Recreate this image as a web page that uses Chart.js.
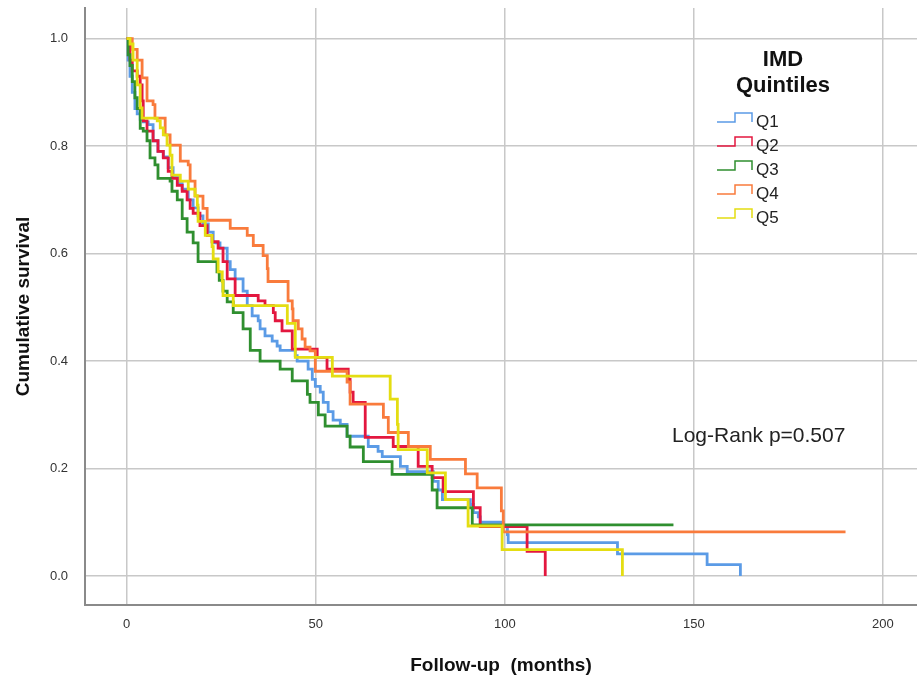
<!DOCTYPE html>
<html>
<head>
<meta charset="utf-8">
<style>
  html, body { margin: 0; padding: 0; background: #fff; }
  #wrap { width: 917px; height: 688px; }
</style>
</head>
<body>
<div id="wrap"><canvas id="kmChart" width="917" height="688"></canvas></div>

<script src="https://cdn.jsdelivr.net/npm/chart.js"></script>
<script>
  // Kaplan-Meier curves by IMD quintile (months, cumulative survival)
  const groups = ['Q1', 'Q2', 'Q3', 'Q4', 'Q5'];
  const colors = ['#5b9be6', '#e3173f', '#2f8f2f', '#f97b3c', '#e4dd12'];

  const q1Time = [0, 0.4, 0.9, 1.5, 2.2, 2.8, 3.6, 4.4, 5.7, 7.0, 8.3, 9.7, 11.0, 12.3, 13.6, 14.7, 16.3, 17.6, 18.9, 20.2, 21.6, 22.9, 24.7, 26.6, 27.4, 28.7, 30.8, 31.9, 33.2, 34.8, 35.3, 36.6, 38.5, 39.8, 40.6, 44.6, 45.1, 48.0, 49.1, 49.9, 51.2, 52.0, 53.3, 54.6, 56.5, 58.3, 63.9, 66.5, 67.6, 72.4, 74.2, 81.1, 82.4, 83.5, 90.9, 91.7, 93.0, 93.5, 99.6, 100.7, 100.9, 129.8, 153.5, 162.3];
  const q1Surv = [1.0, 0.96, 0.93, 0.90, 0.87, 0.86, 0.85, 0.845, 0.84, 0.81, 0.79, 0.78, 0.76, 0.745, 0.73, 0.72, 0.70, 0.685, 0.67, 0.655, 0.64, 0.62, 0.61, 0.585, 0.57, 0.553, 0.53, 0.503, 0.484, 0.475, 0.46, 0.447, 0.437, 0.428, 0.42, 0.41, 0.40, 0.385, 0.366, 0.353, 0.342, 0.323, 0.306, 0.29, 0.282, 0.26, 0.241, 0.232, 0.222, 0.204, 0.194, 0.176, 0.16, 0.142, 0.133, 0.118, 0.11, 0.10, 0.092, 0.077, 0.062, 0.041, 0.021, 0.0];

  const q2Time = [0, 0.9, 1.5, 2.8, 3.6, 4.1, 4.4, 5.4, 7.0, 8.3, 9.7, 11.0, 12.0, 13.4, 14.7, 16.0, 16.8, 17.6, 19.4, 21.3, 22.6, 24.2, 25.5, 26.6, 28.7, 34.8, 36.6, 38.8, 39.3, 41.1, 43.8, 50.4, 53.0, 58.6, 59.1, 59.9, 63.1, 70.5, 77.1, 80.8, 83.7, 91.7, 93.5, 105.9, 110.7];
  const q2Surv = [1.0, 0.96, 0.94, 0.93, 0.914, 0.884, 0.847, 0.828, 0.81, 0.79, 0.778, 0.753, 0.74, 0.727, 0.716, 0.70, 0.684, 0.675, 0.652, 0.634, 0.622, 0.61, 0.585, 0.553, 0.522, 0.512, 0.503, 0.49, 0.475, 0.456, 0.422, 0.407, 0.385, 0.366, 0.342, 0.323, 0.258, 0.241, 0.204, 0.183, 0.157, 0.127, 0.092, 0.046, 0.0];

  const q3Time = [0, 0.4, 0.9, 1.5, 2.2, 2.8, 3.6, 4.4, 5.4, 6.2, 7.5, 8.3, 11.5, 12.0, 13.4, 14.7, 16.0, 17.6, 18.9, 23.9, 24.5, 25.5, 26.6, 28.2, 30.8, 32.7, 35.3, 40.6, 43.8, 47.8, 48.5, 50.7, 52.5, 58.3, 59.1, 62.6, 70.2, 80.8, 82.1, 91.4, 144.6];
  const q3Surv = [1.0, 0.97, 0.95, 0.92, 0.89, 0.87, 0.833, 0.828, 0.81, 0.778, 0.765, 0.74, 0.735, 0.716, 0.70, 0.665, 0.64, 0.62, 0.585, 0.566, 0.55, 0.53, 0.51, 0.49, 0.46, 0.42, 0.40, 0.385, 0.363, 0.338, 0.323, 0.30, 0.279, 0.26, 0.24, 0.213, 0.189, 0.16, 0.127, 0.095, 0.095];

  const q4Time = [0, 1.5, 2.8, 4.1, 5.4, 7.0, 7.5, 10.2, 11.5, 14.2, 16.3, 16.8, 18.1, 20.2, 21.3, 27.4, 31.9, 33.5, 36.1, 37.2, 37.4, 42.7, 43.8, 44.0, 45.4, 46.4, 47.2, 48.5, 49.9, 58.3, 59.1, 67.9, 69.2, 74.5, 80.3, 89.6, 92.7, 99.1, 99.6, 190.1];
  const q4Surv = [1.0, 0.98, 0.96, 0.927, 0.884, 0.877, 0.852, 0.821, 0.802, 0.772, 0.765, 0.735, 0.707, 0.684, 0.662, 0.647, 0.634, 0.615, 0.596, 0.572, 0.548, 0.512, 0.497, 0.475, 0.46, 0.441, 0.426, 0.419, 0.381, 0.361, 0.32, 0.295, 0.267, 0.241, 0.217, 0.19, 0.164, 0.121, 0.082, 0.082];

  const q5Time = [0, 0.9, 1.7, 2.8, 3.6, 4.1, 8.1, 8.9, 9.7, 10.7, 11.5, 12.0, 14.2, 16.3, 18.1, 18.7, 18.9, 20.8, 22.6, 22.9, 24.2, 25.3, 25.5, 28.2, 42.5, 44.6, 54.4, 69.7, 71.6, 71.8, 79.5, 84.3, 90.3, 99.3, 131.1];
  const q5Surv = [1.0, 0.99, 0.96, 0.914, 0.871, 0.852, 0.847, 0.834, 0.821, 0.802, 0.783, 0.746, 0.735, 0.72, 0.708, 0.69, 0.66, 0.634, 0.613, 0.59, 0.566, 0.548, 0.522, 0.503, 0.47, 0.407, 0.372, 0.329, 0.282, 0.235, 0.192, 0.142, 0.093, 0.049, 0.0];

  const xTicks = [0, 50, 100, 150, 200];
  const yTicks = [0.0, 0.2, 0.4, 0.6, 0.8, 1.0];
  const pValueText = 'Log-Rank p=0.507';

  const FONT = "'Liberation Sans', Arial, sans-serif";
  const times = [q1Time, q2Time, q3Time, q4Time, q5Time];
  const survs = [q1Surv, q2Surv, q3Surv, q4Surv, q5Surv];

  const datasets = groups.map((g, i) => ({
    label: g,
    data: times[i].map((t, j) => ({ x: t, y: survs[i][j] })),
    borderColor: colors[i],
    backgroundColor: colors[i],
    borderWidth: 2.8,
    pointRadius: 0,
    stepped: true,
    fill: false,
    order: groups.length - i
  }));

  // legend box with step icons + log-rank note, drawn in the chart area like SPSS does
  const kmLegend = {
    id: 'kmLegend',
    afterDraw(chart) {
      const ctx = chart.ctx;
      ctx.save();
      ctx.fillStyle = '#111';
      ctx.textAlign = 'center';
      ctx.textBaseline = 'middle';
      ctx.font = 'bold 22px ' + FONT;
      ctx.fillText('IMD', 783, 60);
      ctx.fillText('Quintiles', 783, 86);

      ctx.font = '17px ' + FONT;
      ctx.textAlign = 'left';
      chart.data.datasets.forEach((ds, i) => {
        const y = 121 + i * 24;
        ctx.strokeStyle = ds.borderColor;
        ctx.lineWidth = 1.5;
        ctx.beginPath();
        ctx.moveTo(717, y + 1);
        ctx.lineTo(735, y + 1);
        ctx.lineTo(735, y - 8);
        ctx.lineTo(752, y - 8);
        ctx.lineTo(752, y + 1);
        ctx.stroke();
        ctx.fillStyle = '#222';
        ctx.fillText(ds.label, 756, y + 1);
      });

      ctx.font = '21px ' + FONT;
      ctx.fillStyle = '#222';
      ctx.fillText(pValueText, 672, 436);
      ctx.restore();
    }
  };

  new Chart(document.getElementById('kmChart'), {
    type: 'line',
    data: { datasets: datasets },
    options: {
      responsive: false,
      animation: false,
      layout: { padding: { top: 8, right: 0, left: 0, bottom: 0 } },
      plugins: {
        legend: { display: false },
        tooltip: { enabled: false }
      },
      scales: {
        x: {
          type: 'linear',
          min: -11,
          max: 209,
          afterFit: s => { s.height = 83; s.paddingLeft = 0; s.paddingRight = 0; },
          afterBuildTicks: s => { s.ticks = xTicks.map(v => ({ value: v })); },
          ticks: { padding: 12, color: '#333', font: { family: FONT, size: 13 } },
          grid: { color: '#c8c8c8', lineWidth: 1.5, drawTicks: false },
          border: { color: '#8a8a8a', width: 2 },
          title: {
            display: true,
            text: 'Follow-up  (months)',
            color: '#111',
            font: { family: FONT, size: 19, weight: 'bold' },
            padding: { top: 6, bottom: 11 }
          }
        },
        y: {
          type: 'linear',
          min: -0.054,
          max: 1.057,
          afterFit: s => { s.width = 85; s.paddingTop = 0; s.paddingBottom = 0; },
          afterBuildTicks: s => { s.ticks = yTicks.map(v => ({ value: v })); },
          ticks: {
            padding: 17,
            color: '#333',
            font: { family: FONT, size: 13 },
            callback: v => Number(v).toFixed(1)
          },
          grid: { color: '#c8c8c8', lineWidth: 1.5, drawTicks: false },
          border: { color: '#8a8a8a', width: 2 },
          title: {
            display: true,
            text: 'Cumulative survival',
            color: '#111',
            font: { family: FONT, size: 19, weight: 'bold' },
            padding: { top: 12, bottom: 0 }
          }
        }
      }
    },
    plugins: [kmLegend]
  });
</script>
</body>
</html>
